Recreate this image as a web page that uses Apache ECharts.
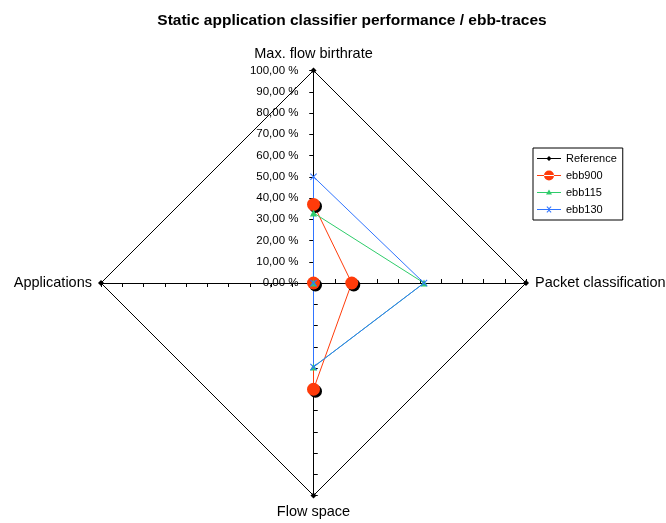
<!DOCTYPE html>
<html><head><meta charset="utf-8">
<script src="https://cdn.jsdelivr.net/npm/echarts@6/dist/echarts.min.js"></script>
<style>html,body{margin:0;padding:0;background:#fff}#c{width:666px;height:523px}</style>
</head><body><div id="c"></div>
<script>
// Indicator order goes counter-clockwise from the top
var indicators = ['Max. flow birthrate', 'Applications', 'Flow space', 'Packet classification'];
var seriesNames = ['Reference', 'ebb900', 'ebb115', 'ebb130'];
var reference = [100, 100, 100, 100];
var ebb900 = [37, 0, 50, 18];
var ebb115 = [33, 0, 39.5, 52];
var ebb130 = [50, 0, 39.5, 52];
var axisMin = 0, axisMax = 100, axisSplit = 10;

var chart = echarts.init(document.getElementById('c'));
var fmt = function (v) { return v.toFixed(2).replace('.', ',') + ' %'; };
var ind = indicators.map(function (n, i) {
  var o = { name: n, min: axisMin, max: axisMax };
  if (i !== 0) o.axisLabel = { show: false };
  return o;
});
var ind2 = indicators.map(function (n) { return { name: n, min: axisMin, max: axisMax }; });
var xPath = 'path://M0,1L1,0L5,4L9,0L10,1L6,5L10,9L9,10L5,6L1,10L0,9L4,5Z';
var colors = ['#000000', '#ff3b0a', '#2ecc6a', '#2f74ff'];
// legend icons: line with marker, bounding box 24x10
var icons = [
  'path://M0,0L0,0L0,4.5L24,4.5L24,5.5L0,5.5L0,0Z M24,0L24,0ZM0,10L0,10ZM9.5,5L12,2.5L14.5,5L12,7.5Z',
  'path://M0,4.5L24,4.5L24,5.5L0,5.5Z M7,5A5,5 0 1 0 17,5A5,5 0 1 0 7,5Z',
  'path://M0,0L0,0ZM0,10L0,10ZM24,0L24,0ZM0,4.5L24,4.5L24,5.5L0,5.5Z M12,2L15,7L9,7Z',
  'path://M0,0L0,0ZM0,10L0,10ZM24,0L24,0ZM0,4.5L24,4.5L24,5.5L0,5.5Z M9.5,2.5L10.2,1.8L12,3.6L13.8,1.8L14.5,2.5L12.7,4.3L12.7,5.7L14.5,7.5L13.8,8.2L12,6.4L10.2,8.2L9.5,7.5L11.3,5.7L11.3,4.3Z'
];
chart.setOption({
  animation: false,
  title: {
    text: 'Static application classifier performance / ebb-traces',
    left: 347, top: 8, textAlign: 'center',
    textStyle: { fontFamily: 'Liberation Sans', fontSize: 15.5, fontWeight: 'bold', color: '#000' }
  },
  legend: {
    orient: 'vertical', left: 533, top: 148,
    borderColor: '#000', borderWidth: 1, padding: [5, 6, 5, 4], itemGap: 6,
    itemWidth: 24, itemHeight: 10,
    textStyle: { fontFamily: 'Liberation Sans', fontSize: 11, color: '#000' },
    data: seriesNames.map(function (n, i) { return { name: n, icon: icons[i], itemStyle: { color: colors[i] } }; })
  },
  radar: [{
    center: [313.5, 283], radius: 212.5, startAngle: 90,
    shape: 'polygon', splitNumber: axisSplit,
    indicator: ind,
    axisName: { color: '#000', fontFamily: 'Liberation Sans', fontSize: 14.5 },
    nameGap: 9,
    axisLine: { lineStyle: { color: '#000', width: 1 } },
    axisTick: { show: true, length: 4, lineStyle: { color: '#000' } },
    axisLabel: { show: true, formatter: fmt, color: '#000', fontFamily: 'Liberation Sans', fontSize: 11.5, margin: 15, hideOverlap: false, showMinLabel: true, showMaxLabel: true },
    splitLine: { show: false },
    splitArea: { show: false }
  }, {
    center: [313.5, 283], radius: 212.5, startAngle: 90,
    shape: 'polygon', splitNumber: axisSplit,
    indicator: ind2,
    axisName: { show: false },
    axisLine: { show: false },
    axisTick: { show: true, inside: true, length: 4, lineStyle: { color: '#000' } },
    axisLabel: { show: false },
    splitLine: { show: false },
    splitArea: { show: false }
  }],
  series: [{
    type: 'radar', radarIndex: 0, z: 2,
    data: [
      { name: 'Reference', value: reference, symbol: 'diamond', symbolSize: 6,
        lineStyle: { color: colors[0], width: 1 }, itemStyle: { color: colors[0] } },
      { name: 'ebb900', value: ebb900, symbol: 'circle', symbolSize: 13,
        lineStyle: { color: colors[1], width: 1 },
        itemStyle: { color: colors[1], shadowColor: '#000', shadowOffsetX: 2, shadowOffsetY: 2, shadowBlur: 0 } },
      { name: 'ebb115', value: ebb115, symbol: 'triangle', symbolSize: 7,
        lineStyle: { color: colors[2], width: 1 }, itemStyle: { color: colors[2] } },
      { name: 'ebb130', value: ebb130, symbol: xPath, symbolSize: 7,
        lineStyle: { color: colors[3], width: 1 }, itemStyle: { color: colors[3] } }
    ]
  }]
});
</script></body></html>
